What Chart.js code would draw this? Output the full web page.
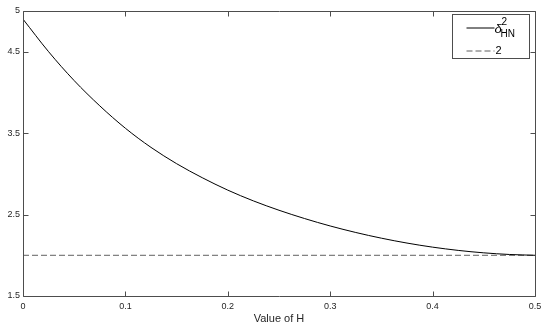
<!DOCTYPE html>
<html>
<head>
<meta charset="utf-8">
<script src="https://cdn.jsdelivr.net/npm/chart.js@4/dist/chart.umd.min.js"></script>
<style>
  html, body { margin: 0; padding: 0; background: #fff; }
  #wrap { width: 550px; height: 329px; }
</style>
</head>
<body>
<div id="wrap"><canvas id="c"></canvas></div>
<script>
// values
const hValues = [0, 0.025, 0.05, 0.075, 0.1, 0.125, 0.15, 0.175, 0.2, 0.225, 0.25,
                 0.275, 0.3, 0.325, 0.35, 0.375, 0.4, 0.425, 0.45, 0.475, 0.5];
const deltaValues = [4.90, 4.50, 4.145, 3.835, 3.56, 3.325, 3.125, 2.953, 2.80, 2.668, 2.553,
                     2.451, 2.36, 2.28, 2.21, 2.15, 2.10, 2.06, 2.03, 2.01, 2.0];
const refLevel = 2;
const xTicks = [0, 0.1, 0.2, 0.3, 0.4, 0.5];
const yTicks = [1.5, 2.5, 3.5, 4.5, 5];

const axisColor = '#4d4d4d';
const textColor = '#262626';
const fontFamily = '"Liberation Sans", Arial, Helvetica, sans-serif';

// box around the axes, inward ticks on all sides, and the legend
const boxPlugin = {
  id: 'box',
  afterDraw(chart) {
    const { ctx, chartArea: a, scales: { x, y } } = chart;
    const L = Math.round(a.left) + 0.5, R = Math.round(a.right) + 0.5;
    const T = Math.round(a.top) + 0.5, B = Math.round(a.bottom) + 0.5;
    ctx.save();
    ctx.strokeStyle = axisColor;
    ctx.lineWidth = 1;
    ctx.beginPath();
    ctx.rect(L, T, R - L, B - T);
    x.ticks.forEach(t => {
      const px = Math.round(x.getPixelForValue(t.value)) + 0.5;
      ctx.moveTo(px, B); ctx.lineTo(px, B - 5);
      ctx.moveTo(px, T); ctx.lineTo(px, T + 5);
    });
    y.ticks.forEach(t => {
      const py = Math.round(y.getPixelForValue(t.value)) + 0.5;
      ctx.moveTo(L, py); ctx.lineTo(L + 5, py);
      ctx.moveTo(R, py); ctx.lineTo(R - 5, py);
    });
    ctx.stroke();

    // legend
    const lw = 77, lh = 44;
    const lx = Math.round(a.right) - 6 - lw + 0.5, ly = Math.round(a.top) + 3 + 0.5;
    ctx.fillStyle = '#fff';
    ctx.fillRect(lx, ly, lw, lh);
    ctx.strokeStyle = axisColor;
    ctx.strokeRect(lx, ly, lw, lh);

    const ds = chart.data.datasets;
    const rows = [ly + 13.5, ly + 36.5];
    ds.forEach((d, i) => {
      ctx.beginPath();
      ctx.strokeStyle = d.borderColor;
      ctx.lineWidth = d.borderWidth;
      ctx.setLineDash(d.borderDash || []);
      ctx.moveTo(lx + 14, rows[i]);
      ctx.lineTo(lx + 42, rows[i]);
      ctx.stroke();
    });
    ctx.setLineDash([]);
    ctx.fillStyle = '#000';
    ctx.textBaseline = 'middle';
    ctx.textAlign = 'left';
    ctx.font = 'italic 13px ' + fontFamily;
    ctx.fillText('δ', lx + 42, rows[0] + 1);
    ctx.font = '10px ' + fontFamily;
    ctx.fillText('2', lx + 49, rows[0] - 6);
    ctx.fillText('HN', lx + 48, rows[0] + 6);
    ctx.font = '11px ' + fontFamily;
    ctx.fillText(String(refLevel), lx + 43, rows[1]);
    ctx.restore();
  }
};

new Chart(document.getElementById('c'), {
  type: 'line',
  data: {
    datasets: [
      {
        label: 'δ²_HN',
        data: hValues.map((h, i) => ({ x: h, y: deltaValues[i] })),
        borderColor: '#000',
        borderWidth: 1,
        pointRadius: 0,
        cubicInterpolationMode: 'monotone'
      },
      {
        label: String(refLevel),
        data: [{ x: hValues[0], y: refLevel }, { x: hValues[hValues.length - 1], y: refLevel }],
        borderColor: '#606060',
        borderWidth: 1,
        borderDash: [6, 3],
        pointRadius: 0
      }
    ]
  },
  options: {
    responsive: true,
    maintainAspectRatio: false,
    animation: false,
    layout: { padding: { top: 11, right: 15, left: 0, bottom: 0 } },
    plugins: {
      legend: { display: false },
      tooltip: { enabled: false }
    },
    scales: {
      x: {
        type: 'linear',
        min: 0,
        max: 0.5,
        afterBuildTicks: s => { s.ticks = xTicks.map(v => ({ value: v })); },
        afterFit: s => { s.height = 33; },
        grid: { display: false, drawTicks: false },
        border: { display: false },
        ticks: {
          padding: 5,
          color: textColor,
          font: { family: fontFamily, size: 9 },
          maxRotation: 0
        },
        title: {
          display: true,
          text: 'Value of H',
          color: textColor,
          font: { family: fontFamily, size: 11 },
          padding: { top: 0, bottom: 3 }
        }
      },
      y: {
        type: 'linear',
        min: 1.5,
        max: 5,
        afterBuildTicks: s => { s.ticks = yTicks.map(v => ({ value: v })); },
        afterFit: s => { s.width = 23; },
        grid: { display: false, drawTicks: false },
        border: { display: false },
        ticks: {
          padding: 3,
          color: textColor,
          font: { family: fontFamily, size: 9 }
        }
      }
    }
  },
  plugins: [boxPlugin]
});
</script>
</body>
</html>
